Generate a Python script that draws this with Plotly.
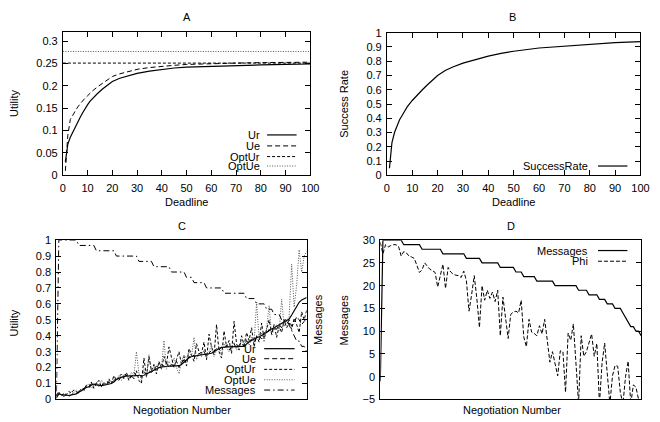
import plotly.graph_objects as go

W, H = 660, 422
FONT = "Liberation Sans, Arial, sans-serif"

# ---------------- Panel A data ----------------
deadline_a = [1, 2, 3, 4, 5, 6, 7, 8, 9, 10, 11, 12, 14, 16, 18, 20, 23, 26, 30, 35, 40, 45, 50, 55, 60, 70, 80, 90, 100]
ur_a = [0.03, 0.07, 0.085, 0.097, 0.108, 0.12, 0.13, 0.14, 0.15, 0.158, 0.166, 0.172, 0.183, 0.193, 0.201, 0.21,
        0.217, 0.222, 0.228, 0.233, 0.237, 0.240, 0.242, 0.243, 0.244, 0.246, 0.247, 0.248, 0.249]
ue_a = [0.01, 0.09, 0.125, 0.135, 0.145, 0.153, 0.16, 0.167, 0.173, 0.178, 0.184, 0.189, 0.198, 0.206, 0.213, 0.221,
        0.227, 0.232, 0.237, 0.241, 0.244, 0.246, 0.248, 0.249, 0.250, 0.251, 0.252, 0.253, 0.253]
opt_deadline_a = [0, 100]
optur_a = [0.251, 0.251]
optue_a = [0.277, 0.277]

# ---------------- Panel B data ----------------
deadline_b = [1, 2, 3, 4, 5, 6, 8, 10, 12, 14, 16, 18, 20, 23, 26, 30, 35, 40, 45, 50, 60, 70, 80, 90, 100]
success_b = [0.05, 0.23, 0.30, 0.35, 0.39, 0.42, 0.48, 0.525, 0.565, 0.60, 0.635, 0.665, 0.70, 0.735, 0.76, 0.787,
             0.812, 0.836, 0.855, 0.87, 0.893, 0.907, 0.92, 0.93, 0.937]

# ---------------- Panels C and D data (per negotiation 0..100) ----------------
messages = [-1] + [30] * 8 + [29] * 7 + [28] * 8 + [27] * 9 + [26] * 6 + [25] * 7 + [24] * 6 + [23] * 3 + \
           [22] * 5 + [21] * 7 + [20] * 9 + [19] * 4 + [18] * 4 + [17] * 3 + [16] * 3 + [15] * 3 + \
           [14, 13, 12, 11, 11, 10, 10, 9]

phi = [29.5, 27, 29, 28.5, 28.8, 29, 29, 28.6, 26.5, 27.5,
       27.2, 26.5, 26.3, 26, 24.5, 22.9, 23.5, 25, 24.3, 23.6,
       23.3, 22.9, 19.7, 22, 24.7, 19.4, 24, 23, 22.5, 22.3,
       22.2, 21.8, 23.2, 21.1, 14.4, 18, 22.2, 17.2, 10.8, 20,
       16.8, 19, 17.2, 18.6, 16.5, 19, 9, 17.5, 12.3, 8.4,
       13.7, 14.2, 14.4, 14, 16.8, 8.7, 6.6, 12.6, 9.8, 9.5,
       9, 11.2, 9.4, 12.6, 8, 3.2, 5.5, 3, 0.2, 5.7,
       5.5, -3.4, 9.6, 8, 11.6, 3, -6, 9, 4.5, 5.5,
       7.5, 9.4, 4.5, 7.3, -6, 3, 7.4, -0.5, -6, 0.2,
       2.5, 2.3, -3.4, -6, 0, 3.4, -6, -1.8, -2.3, -5, -5]

ur_c = [0.01, 0.035, 0.03, 0.028, 0.025, 0.025, 0.028, 0.03, 0.035, 0.045,
        0.057, 0.065, 0.075, 0.08, 0.09, 0.097, 0.092, 0.088, 0.087, 0.09,
        0.093, 0.096, 0.1, 0.11, 0.125, 0.133, 0.14, 0.144, 0.146, 0.147,
        0.148, 0.148, 0.148, 0.148, 0.149, 0.152, 0.16, 0.168, 0.178, 0.188,
        0.195, 0.2, 0.204, 0.207, 0.209, 0.209, 0.209, 0.21, 0.21, 0.212,
        0.22, 0.235, 0.25, 0.262, 0.27, 0.272, 0.274, 0.276, 0.278, 0.28,
        0.283, 0.287, 0.29, 0.3, 0.312, 0.32, 0.326, 0.33, 0.33, 0.33,
        0.33, 0.331, 0.331, 0.332, 0.333, 0.335, 0.35, 0.362, 0.37, 0.38,
        0.388, 0.394, 0.4, 0.41, 0.422, 0.435, 0.442, 0.45, 0.46, 0.47,
        0.48, 0.49, 0.498, 0.505, 0.53, 0.56, 0.59, 0.61, 0.625, 0.635, 0.64]
ue_c = [0.02, 0.04, 0.03, 0.02, 0.03, 0.02, 0.03, 0.04, 0.04, 0.05,
        0.06, 0.07, 0.08, 0.07, 0.10, 0.09, 0.10, 0.09, 0.08, 0.10,
        0.09, 0.11, 0.10, 0.12, 0.13, 0.12, 0.15, 0.14, 0.15, 0.16,
        0.14, 0.17, 0.15, 0.16, 0.14, 0.17, 0.16, 0.18, 0.17, 0.19,
        0.21, 0.20, 0.22, 0.21, 0.23, 0.20, 0.22, 0.21, 0.24, 0.20,
        0.23, 0.25, 0.24, 0.27, 0.26, 0.28, 0.27, 0.29, 0.28, 0.30,
        0.27, 0.29, 0.31, 0.30, 0.32, 0.31, 0.33, 0.32, 0.34, 0.31,
        0.33, 0.35, 0.32, 0.34, 0.36, 0.33, 0.37, 0.35, 0.38, 0.36,
        0.39, 0.40, 0.38, 0.42, 0.41, 0.44, 0.42, 0.46, 0.44, 0.47,
        0.45, 0.49, 0.47, 0.50, 0.46, 0.48, 0.52, 0.50, 0.47, 0.49, 0.51]
optur_c = [0.03, 0.05, 0.02, 0.04, 0.03, 0.05, 0.04, 0.06, 0.05, 0.04,
           0.07, 0.06, 0.09, 0.08, 0.11, 0.07, 0.10, 0.12, 0.08, 0.11,
           0.09, 0.13, 0.10, 0.15, 0.12, 0.14, 0.16, 0.13, 0.17, 0.12,
           0.15, 0.13, 0.18, 0.12, 0.10, 0.26, 0.14, 0.27, 0.18, 0.22,
           0.16, 0.24, 0.19, 0.27, 0.22, 0.33, 0.26, 0.20, 0.25, 0.30,
           0.22, 0.27, 0.21, 0.32, 0.28, 0.24, 0.35, 0.30, 0.29, 0.36,
           0.25, 0.41, 0.33, 0.28, 0.47, 0.30, 0.26, 0.43, 0.33, 0.37,
           0.29, 0.49, 0.35, 0.31, 0.40, 0.34, 0.42, 0.37, 0.45, 0.33,
           0.40, 0.36, 0.48, 0.38, 0.44, 0.50, 0.41, 0.47, 0.39, 0.46,
           0.42, 0.50, 0.45, 0.48, 0.44, 0.51, 0.47, 0.42, 0.55, 0.50, 0.56]
optue_c = [0.02, 0.04, 0.03, 0.02, 0.04, 0.03, 0.05, 0.04, 0.06, 0.05,
           0.06, 0.05, 0.08, 0.10, 0.07, 0.09, 0.11, 0.08, 0.12, 0.10,
           0.09, 0.12, 0.11, 0.14, 0.13, 0.15, 0.12, 0.16, 0.14, 0.13,
           0.17, 0.15, 0.30, 0.16, 0.12, 0.19, 0.14, 0.28, 0.17, 0.21,
           0.18, 0.23, 0.20, 0.37, 0.19, 0.24, 0.21, 0.26, 0.20, 0.16,
           0.24, 0.28, 0.26, 0.30, 0.27, 0.39, 0.25, 0.29, 0.27, 0.31,
           0.26, 0.30, 0.34, 0.27, 0.31, 0.33, 0.28, 0.35, 0.32, 0.30,
           0.33, 0.36, 0.31, 0.34, 0.37, 0.35, 0.38, 0.34, 0.39, 0.36,
           0.61, 0.38, 0.42, 0.36, 0.45, 0.59, 0.40, 0.44, 0.47, 0.43,
           0.63, 0.46, 0.49, 0.52, 0.85, 0.58, 0.72, 0.94, 0.80, 0.90, 0.93]

# ---------------- styles ----------------
STY = {
    "solid": dict(color="black", width=1.2, dash="solid"),
    "dash": dict(color="black", width=1, dash="5px,3px"),
    "short": dict(color="black", width=1, dash="3px,2px"),
    "dot": dict(color="#555555", width=1, dash="1px,1.5px"),
    "dashdot": dict(color="black", width=1, dash="6px,3px,1.5px,3px"),
    "phi": dict(color="black", width=1, dash="4px,2px"),
}

fig = go.Figure()


def line(x, y, name, sty, xa, ya):
    fig.add_trace(go.Scatter(x=x, y=y, name=name, mode="lines", line=STY[sty],
                             xaxis=xa, yaxis=ya, showlegend=False, hoverinfo="skip"))


neg = list(range(len(messages)))

# Panel A
line(deadline_a, ur_a, "Ur", "solid", "x", "y")
line(deadline_a, ue_a, "Ue", "dash", "x", "y")
line(opt_deadline_a, optur_a, "OptUr", "short", "x", "y")
line(opt_deadline_a, optue_a, "OptUe", "dot", "x", "y")
# Panel B
line(deadline_b, success_b, "SuccessRate", "solid", "x2", "y2")
# Panel C
line(list(range(len(ur_c))), ur_c, "Ur", "solid", "x3", "y3")
line(list(range(len(ue_c))), ue_c, "Ue", "dash", "x3", "y3")
line(list(range(len(optur_c))), optur_c, "OptUr", "short", "x3", "y3")
line(list(range(len(optue_c))), optue_c, "OptUe", "dot", "x3", "y3")
line(neg, messages, "Messages", "dashdot", "x3", "y5")
# Panel D
line(neg, messages, "Messages", "solid", "x4", "y4")
line(list(range(len(phi))), phi, "Phi", "phi", "x4", "y4")


def px(v):
    return v / W


def py(v):
    return 1 - v / H


def xax(l, r, rng, dtick=None, labels=True, anchor="y"):
    d = dict(domain=[px(l), px(r)], range=rng, showline=True, linecolor="black", linewidth=1,
             mirror=True, showgrid=False, zeroline=False, anchor=anchor,
             tickfont=dict(family=FONT, size=11, color="black"))
    if labels:
        d.update(ticks="inside", ticklen=5, tickcolor="black", dtick=dtick, tick0=0,
                 mirror="allticks", showticklabels=True)
    else:
        d.update(ticks="", showticklabels=False)
    return d


def yax(t, b, rng, dtick, anchor):
    return dict(domain=[py(b), py(t)], range=rng, showline=True, linecolor="black", linewidth=1,
                mirror="allticks", ticks="inside", ticklen=5, tickcolor="black", dtick=dtick, tick0=0,
                showgrid=False, zeroline=False, anchor=anchor,
                tickfont=dict(family=FONT, size=11, color="black"))


layout = dict(
    width=W, height=H, margin=dict(l=0, r=0, t=0, b=0),
    paper_bgcolor="white", plot_bgcolor="white",
    font=dict(family=FONT, size=11, color="black"),
    xaxis=xax(61, 313, [0, 100], 10, anchor="y"),
    yaxis=yax(27, 174.3, [0, 0.32], 0.05, "x"),
    xaxis2=xax(391, 649.3, [0, 100], 10, anchor="y2"),
    yaxis2=yax(27.5, 174.3, [0, 1], 0.1, "x2"),
    xaxis3=xax(54.3, 309.3, [0, 100], labels=False, anchor="y3"),
    yaxis3=yax(241, 405, [0, 1], 0.1, "x3"),
    xaxis4=xax(384.3, 650, [0, 100], labels=False, anchor="y4"),
    yaxis4=yax(241, 405, [-5, 30], 5, "x4"),
    yaxis5=dict(overlaying="y3", side="right", range=[0, 30], showticklabels=False, ticks="",
                showline=False, showgrid=False, zeroline=False, anchor="x3"),
)
fig.update_layout(**layout)
fig.update_xaxes(ticklabelstandoff=2)
fig.update_yaxes(ticklabelstandoff=2)

ann = []
shapes = []


def text(x, y, s, angle=0, xanchor="center"):
    ann.append(dict(x=px(x), y=py(y), xref="paper", yref="paper", text=s, showarrow=False,
                    textangle=angle, xanchor=xanchor, yanchor="middle",
                    font=dict(family=FONT, size=11, color="black")))


# titles and axis titles
text(187, 11.5, "A")
text(519, 11.5, "B")
text(182, 226, "C")
text(517, 226, "D")
text(187, 202, "Deadline")
text(520, 202, "Deadline")
text(11, 100, "Utility", angle=-90)
text(347, 101, "Success Rate", angle=-90)
text(11, 326, "Utility", angle=-90)
text(321, 323, "Messages", angle=-90)
text(182, 416, "Negotiation Number")
text(347, 323, "Messages", angle=-90)
text(518, 416, "Negotiation Number")


def legend(entries, text_right, x0, x1, ys):
    for (name, sty), y in zip(entries, ys):
        text(text_right, y, name, xanchor="right")
        s = STY[sty]
        shapes.append(dict(type="line", xref="paper", yref="paper", x0=px(x0), x1=px(x1),
                           y0=py(y), y1=py(y), line=dict(color=s["color"], width=s["width"], dash=s["dash"])))


legend([("Ur", "solid"), ("Ue", "dash"), ("OptUr", "short"), ("OptUe", "dot")],
       264, 269, 299, [132.7, 144, 155, 164.7])
legend([("SuccessRate", "solid")], 598, 606, 636, [164.7])
legend([("Ur", "solid"), ("Ue", "dash"), ("OptUr", "short"), ("OptUe", "dot"), ("Messages", "dashdot")],
       260, 266, 297, [352.7, 363, 374, 384.7, 395.3])
legend([("Messages", "solid"), ("Phi", "phi")], 598, 606, 636, [251.7, 262.7])

fig.update_layout(annotations=ann, shapes=shapes)
fig.write_html("out.html")
